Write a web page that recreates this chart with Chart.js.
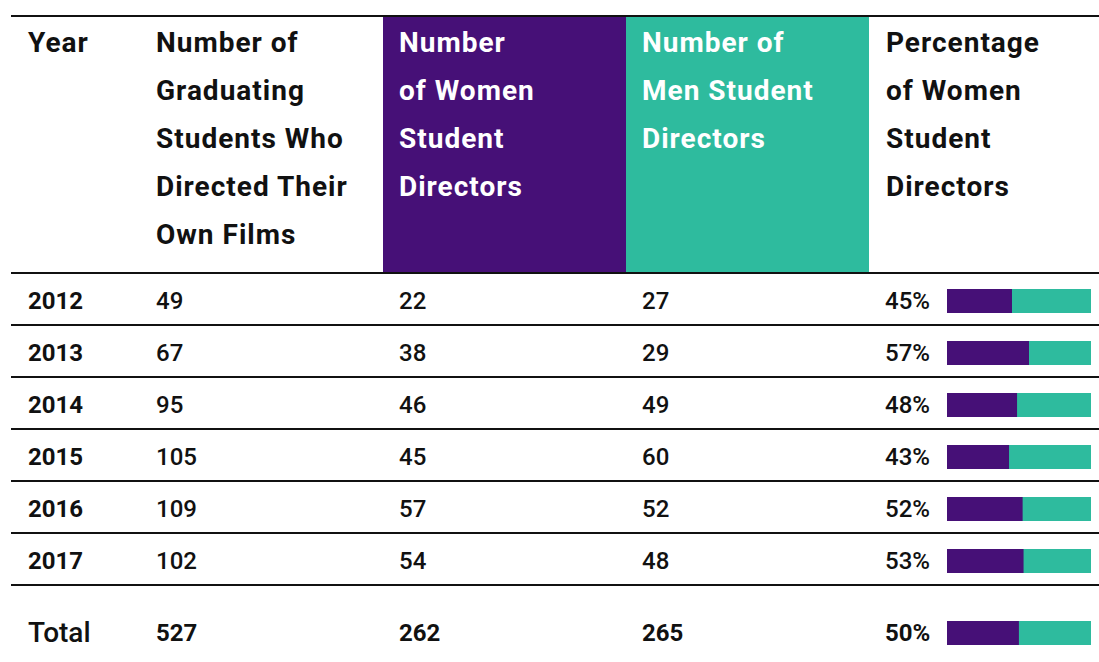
<!DOCTYPE html>
<html>
<head>
<meta charset="utf-8">
<script src="https://cdn.jsdelivr.net/npm/chart.js@4"></script>
<style>
  body { margin: 0; background: #fff; font-family: Roboto, "Noto Sans", sans-serif; color: #111; }
  #wrap { position: relative; width: 1099px; height: 662px; overflow: hidden; }
  table { position: absolute; left: 11px; top: 15px; border-collapse: collapse; table-layout: fixed; }
  td, th { padding: 0 0 0 17px; text-align: left; vertical-align: top; }
  th { font-size: 28px; font-weight: 700; line-height: 48px; letter-spacing: 1px; white-space: nowrap; height: 257px; padding-top: 2px; box-sizing: border-box; }
  thead tr { border-top: 2px solid #111; border-bottom: 2px solid #111; }
  tbody tr.row { border-bottom: 2px solid #111; height: 52px; }
  tbody td { vertical-align: middle; font-size: 24px; font-weight: 500; }
  tbody tr.row td { padding-top: 4px; }
  td.yr { font-weight: 700; }
  th.w { background: #461077; color: #fff; padding-left: 16px; }
  th.m { background: #2ebb9e; color: #fff; padding-left: 16px; }
  td.pc { padding-left: 16px; }
  .pcell { display: flex; align-items: center; }
  .pcell span { width: 62px; }
  .pcell canvas { display: block; }
  tr.total { height: 76px; }
  tr.total td { font-weight: 700; padding-top: 18px; }
  tr.total td.yr { font-size: 28px; font-weight: 500; }
</style>
</head>
<body>
<div id="wrap">
  <table id="tbl">
    <colgroup>
      <col style="width:128px"><col style="width:244px"><col style="width:243px"><col style="width:243px"><col style="width:230px">
    </colgroup>
    <thead>
      <tr>
        <th>Year</th>
        <th>Number of<br>Graduating<br>Students Who<br>Directed Their<br>Own Films</th>
        <th class="w">Number<br>of Women<br>Student<br>Directors</th>
        <th class="m">Number of<br>Men Student<br>Directors</th>
        <th>Percentage<br>of Women<br>Student<br>Directors</th>
      </tr>
    </thead>
    <tbody id="body"></tbody>
  </table>
</div>
<script>
const years = ['2012', '2013', '2014', '2015', '2016', '2017'];
const graduating = [49, 67, 95, 105, 109, 102];
const women = [22, 38, 46, 45, 57, 54];
const men = [27, 29, 49, 60, 52, 48];
const pctWomen = ['45%', '57%', '48%', '43%', '52%', '53%'];

const totalLabel = 'Total';
const totalGraduating = 527;
const totalWomen = 262;
const totalMen = 265;
const totalPct = '50%';

const purple = '#461077';
const teal = '#2ebb9e';

const body = document.getElementById('body');

function addRow(cls, label, grad, w, m, pct) {
  const tr = document.createElement('tr');
  tr.className = cls;
  tr.innerHTML =
    '<td class="yr">' + label + '</td>' +
    '<td>' + grad + '</td>' +
    '<td style="padding-left:16px">' + w + '</td>' +
    '<td style="padding-left:16px">' + m + '</td>' +
    '<td class="pc"><div class="pcell"><span>' + pct + '</span><canvas width="144" height="24"></canvas></div></td>';
  body.appendChild(tr);
  return tr.querySelector('canvas');
}

function makeBar(canvas, w, m) {
  return new Chart(canvas.getContext('2d'), {
    type: 'bar',
    data: {
      labels: [''],
      datasets: [
        { label: 'Women', data: [w], backgroundColor: purple, borderWidth: 0 },
        { label: 'Men', data: [m], backgroundColor: teal, borderWidth: 0 }
      ]
    },
    options: {
      indexAxis: 'y',
      responsive: false,
      animation: false,
      layout: { padding: 0 },
      datasets: { bar: { barPercentage: 1, categoryPercentage: 1 } },
      plugins: { legend: { display: false }, tooltip: { enabled: false } },
      scales: {
        x: { stacked: true, display: false, min: 0, max: w + m },
        y: { stacked: true, display: false }
      }
    }
  });
}

for (let i = 0; i < years.length; i++) {
  const c = addRow('row', years[i], graduating[i], women[i], men[i], pctWomen[i]);
  makeBar(c, women[i], men[i]);
}
const ct = addRow('total', totalLabel, totalGraduating, totalWomen, totalMen, totalPct);
makeBar(ct, totalWomen, totalMen);
</script>
</body>
</html>
